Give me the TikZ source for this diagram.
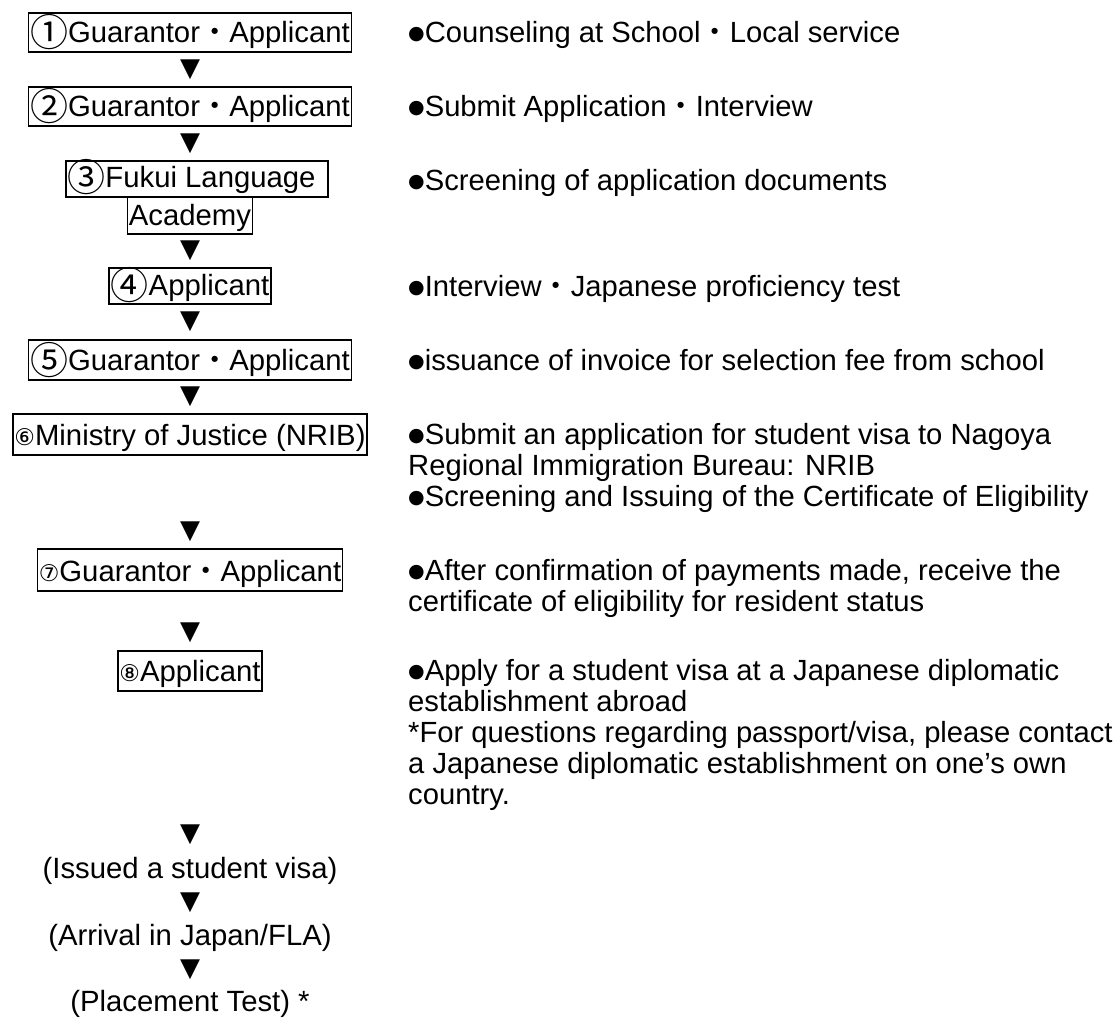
\documentclass[tikz,border=0pt]{standalone}
\usepackage{fontspec}
\setmainfont{Liberation Sans}
\newfontfamily\cjkfont{Noto Sans CJK JP}
\newfontfamily\symfont{DejaVu Sans}
\usepackage{tikz}
\usetikzlibrary{positioning}

\newcommand{\dotsep}{{\cjkfont ・}}
\newcommand{\circnum}[1]{\raisebox{-4pt}{\cjkfont\fontsize{38}{38}\selectfont #1}}
\newcommand{\smallnum}[1]{{\symfont\fontsize{23}{23}\selectfont #1}}
\newcommand{\bul}{\raisebox{3pt}{\symfont\fontsize{19}{19}\selectfont ●}}

\begin{document}
\begin{tikzpicture}[
    x=1pt, y=-1pt,
    stepbox/.style={draw=black, line width=1.6pt, inner xsep=1.5pt, inner ysep=0pt, text height=30pt, text depth=9pt, font=\fontsize{29.3}{31}\selectfont},
    arrowmark/.style={inner sep=0pt, font=\symfont\fontsize{26}{26}\selectfont},
    plain/.style={inner sep=0pt, font=\fontsize{29.3}{31}\selectfont},
    note/.style={inner sep=0pt, anchor=base west, font=\fontsize{29.2}{31}\selectfont}
]
\useasboundingbox (0,0) rectangle (1118,1019);

% Left column: steps
\node[stepbox] (s1) at (190, 32.5) {\circnum{①}Guarantor\dotsep Applicant};
\node[stepbox] (s2) at (190, 106.5) {\circnum{②}Guarantor\dotsep Applicant};
\node[stepbox, text height=27pt] (s3a) at (197, 179) {\circnum{③}Fukui Language\kern11pt\relax};
\node[stepbox, text height=28pt] (s3b) at (190, 215.5) {Academy};
\node[stepbox, text height=27pt] (s4) at (190, 286) {\circnum{④}Applicant};
\node[stepbox, text height=30pt, text depth=10pt] (s5) at (190, 360) {\circnum{⑤}Guarantor\dotsep Applicant};
\node[stepbox, text height=31pt, text depth=10pt] (s6) at (190, 434.5) {\smallnum{⑥}Ministry of Justice (NRIB)};
\node[stepbox, text height=32pt, text depth=10pt] (s7) at (190, 570) {\smallnum{⑦}Guarantor\dotsep Applicant};
\node[stepbox, text height=30pt, text depth=10pt] (s8) at (190, 671) {\smallnum{⑧}Applicant};
\node[plain] (issued) at (190, 871) {(Issued a student visa)};
\node[plain] (arrival) at (190, 938) {(Arrival in Japan/FLA)};
\node[plain] (placement) at (190, 1004) {(Placement Test) *};

% Triangles between the steps
\foreach \ty [count=\i] in {70, 144, 251, 322, 397, 532, 633, 835, 903, 970}
  \node[arrowmark] (t\i) at (190, \ty) {▼};

% Right column: what happens at each step
\node[note] (n1) at (408, 43) {\bul Counseling at School\dotsep Local service};
\node[note] (n2) at (408, 117) {\bul Submit Application\dotsep Interview};
\node[note] (n3) at (408, 190.5) {\bul Screening of application documents};
\node[note] (n4) at (408, 296.5) {\bul Interview\dotsep Japanese proficiency test};
\node[note] (n5) at (408, 370.5) {\bul issuance of invoice for selection fee from school};
\node[note] (n6) at (408, 444.5) {\parbox[t]{710pt}{\bul Submit an application for student visa to Nagoya\\
  Regional Immigration Bureau: NRIB\\
  \bul Screening and Issuing of the Certificate of Eligibility}};
\node[note] (n7) at (408, 580.5) {\parbox[t]{710pt}{\bul After confirmation of payments made, receive the\\
  certificate of eligibility for resident status}};
\node[note] (n8) at (408, 680.5) {\parbox[t]{710pt}{\bul Apply for a student visa at a Japanese diplomatic\\
  establishment abroad\\{}*For questions regarding passport/visa, please contact\\
  a Japanese diplomatic establishment on one’s own\\
  country.}};
\end{tikzpicture}
\end{document}
